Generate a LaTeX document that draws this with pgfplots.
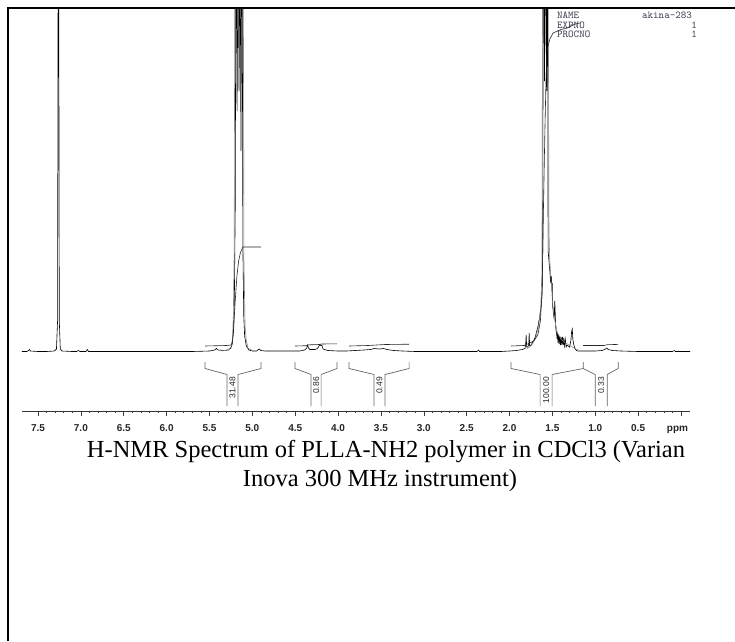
\documentclass[border=0pt]{standalone}
\usepackage{fontspec}
\setmainfont{Liberation Serif}
\newfontfamily\sansf{Liberation Sans}
\usepackage{pgfplots}
\pgfplotsset{compat=1.18}
\definecolor{partext}{RGB}{60,60,80}
\begin{document}
\begin{tikzpicture}[x=1pt,y=1pt]
\useasboundingbox (0,0) rectangle (735,641);
\fill[white] (0,0) rectangle (735,641);
\begin{axis}[
  at={(22pt,230pt)}, anchor=south west,
  width=668pt, height=402pt, scale only axis,
  xmin=-0.105, xmax=7.687, x dir=reverse,
  ymin=0, ymax=402,
  hide y axis,
  axis x line*=bottom,
  x axis line style={-, line width=0.8pt, color=black!80},
  xtick={0,0.5,1,1.5,2,2.5,3,3.5,4,4.5,5,5.5,6,6.5,7,7.5},
  xticklabels={ppm\hspace*{7pt},0.5,1.0,1.5,2.0,2.5,3.0,3.5,4.0,4.5,5.0,5.5,6.0,6.5,7.0,7.5},
  typeset ticklabels with strut,
  minor x tick num=4,
  tick align=outside,
  major tick length=4.5pt, minor tick length=2pt,
  every tick/.style={black!75, line width=0.6pt},
  xticklabel style={font=\sansf\bfseries\fontsize{10}{12}\selectfont, text=black!85, yshift=-4pt},
]
% spectrum
\addplot[black, line width=0.6pt] coordinates {
(7.687,59.5) (7.63,59.5) (7.61,60.5) (7.60,61.5) (7.59,60) (7.50,59.5) (7.40,59.5) (7.31,60) (7.285,62) (7.272,90) (7.266,420) (7.258,420) (7.252,90) (7.24,62) (7.22,60) (7.10,59.5) (7.05,59.5) (7.03,60.5) (7.01,59.5) (6.94,59.5) (6.925,61.5) (6.91,59.5) (6.50,59.5) (6.00,59.5) (5.70,59.5) (5.50,60) (5.44,61) (5.42,62.5) (5.40,61) (5.33,60.5) (5.28,61) (5.25,63) (5.235,67) (5.22,80) (5.21,110) (5.20,200) (5.193,420) (5.185,420) (5.178,300) (5.170,420) (5.162,420) (5.155,320) (5.148,420) (5.140,420) (5.133,260) (5.126,420) (5.118,420) (5.11,160) (5.10,95) (5.09,75) (5.07,65) (5.04,61) (5.00,60) (4.95,60) (4.93,61.5) (4.92,62) (4.90,60.5) (4.85,60) (4.60,60) (4.45,60) (4.39,61) (4.365,63) (4.355,66) (4.345,63) (4.33,61.5) (4.27,61.5) (4.24,62.5) (4.215,66) (4.20,65.5) (4.19,66) (4.175,62) (4.12,60.5) (4.00,60) (3.90,60) (3.80,60.5) (3.70,61) (3.62,61.5) (3.58,62.5) (3.52,62) (3.47,62.5) (3.43,61.5) (3.35,60.5) (3.25,60) (3.10,59.5) (2.80,59.5) (2.50,59.5) (2.38,59.5) (2.36,61) (2.35,59.5) (2.10,59.5) (2.00,60) (1.92,60.5) (1.85,61.5) (1.82,62.5) (1.812,66) (1.806,76) (1.80,64) (1.79,64) (1.776,66) (1.771,78) (1.765,65) (1.75,66) (1.72,70) (1.70,74) (1.67,84) (1.645,96) (1.63,106) (1.62,118) (1.613,160) (1.608,420) (1.598,420) (1.592,330) (1.585,420) (1.575,420) (1.568,320) (1.562,420) (1.556,420) (1.55,160) (1.54,150) (1.53,140) (1.52,128) (1.512,135) (1.505,120) (1.502,128) (1.498,105) (1.49,100) (1.48,92) (1.472,110) (1.466,95) (1.46,82) (1.452,78) (1.445,72) (1.44,78) (1.435,68) (1.428,76) (1.42,67) (1.413,75) (1.405,66) (1.398,74) (1.39,66) (1.383,74) (1.375,66) (1.368,73) (1.36,65) (1.35,72) (1.34,64) (1.33,66) (1.30,64) (1.285,70) (1.275,80) (1.268,82) (1.262,72) (1.25,66) (1.235,62) (1.22,60.5) (1.20,60) (1.10,60) (1.00,60) (0.92,60.5) (0.88,62) (0.865,63) (0.85,61.5) (0.80,60.5) (0.70,60) (0.50,59.5) (0.30,59.5) (0.10,59.5) (0.075,60.5) (0.065,59.5) (-0.105,59.5)
};
% ghost traces
\addplot[black!45, line width=0.6pt] coordinates {
(5.35,60) (5.28,61.5) (5.25,64) (5.232,72) (5.222,95) (5.212,160) (5.205,420) (5.105,420) (5.098,150) (5.085,85) (5.07,70) (5.05,63) (5.00,60.5)
};
\addplot[black!45, line width=0.6pt] coordinates {
(1.80,62) (1.74,66) (1.70,72) (1.66,85) (1.635,105) (1.622,140) (1.615,420) (1.548,420) (1.54,180) (1.53,150) (1.515,130) (1.50,110) (1.48,95) (1.46,85) (1.44,78) (1.40,72) (1.35,68) (1.30,66) (1.25,63) (1.20,61)
};
% integral traces
\addplot[black!85, line width=0.6pt] coordinates {
(5.552,65) (5.30,65.5) (5.25,66) (5.235,68) (5.22,80) (5.20,110) (5.18,135) (5.16,150) (5.14,158) (5.12,162) (5.11,164) (4.898,164)
};
\addplot[black!85, line width=0.6pt] coordinates {
(4.502,65) (4.37,65.3) (4.35,66) (4.33,66.2) (4.22,66.5) (4.19,67) (4.012,67.2)
};
\addplot[black!85, line width=0.6pt] coordinates {
(3.872,65) (3.65,65.5) (3.55,66) (3.45,66.5) (3.171,66.8)
};
\addplot[black!85, line width=0.6pt] coordinates {
(1.982,65) (1.83,65.5) (1.805,66.5) (1.775,67.5) (1.72,70) (1.67,76) (1.64,90) (1.62,120) (1.605,200) (1.59,270) (1.575,330) (1.562,361) (1.53,372) (1.492,378) (1.40,381.5) (1.328,383) (1.235,387) (1.18,388)
};
\addplot[black!85, line width=0.6pt] coordinates {
(1.141,65.5) (0.90,65.5) (0.86,66.3) (0.733,66.6)
};
% integral brackets
\addplot[black!60, line width=0.7pt] coordinates {(5.552,49) (5.552,42.5) (5.295,36.5) (5.295,5)};
\addplot[black!60, line width=0.7pt] coordinates {(5.167,5) (5.167,36.5) (4.898,42.5) (4.898,49)};
\addplot[black!60, line width=0.7pt] coordinates {(4.502,49) (4.502,42.5) (4.315,36.5) (4.315,5)};
\addplot[black!60, line width=0.7pt] coordinates {(4.198,5) (4.198,36.5) (4.012,42.5) (4.012,49)};
\addplot[black!60, line width=0.7pt] coordinates {(3.872,49) (3.872,42.5) (3.580,36.5) (3.580,5)};
\addplot[black!60, line width=0.7pt] coordinates {(3.452,5) (3.452,36.5) (3.171,42.5) (3.171,49)};
\addplot[black!60, line width=0.7pt] coordinates {(1.982,49) (1.982,42.5) (1.643,36.5) (1.643,5)};
\addplot[black!60, line width=0.7pt] coordinates {(1.503,5) (1.503,36.5) (1.141,42.5) (1.141,49)};
\addplot[black!60, line width=0.7pt] coordinates {(1.141,42.5) (1.001,36.5) (1.001,5)};
\addplot[black!60, line width=0.7pt] coordinates {(0.861,5) (0.861,36.5) (0.733,42.5) (0.733,49)};
% integral values
\node[rotate=90, anchor=east, inner sep=0pt, font=\sansf\fontsize{8.5}{9}\selectfont, text=black!85] at (axis cs:5.231,34) {31.48};
\node[rotate=90, anchor=east, inner sep=0pt, font=\sansf\fontsize{8.5}{9}\selectfont, text=black!85] at (axis cs:4.2565,34) {0.86};
\node[rotate=90, anchor=east, inner sep=0pt, font=\sansf\fontsize{8.5}{9}\selectfont, text=black!85] at (axis cs:3.516,34) {0.49};
\node[rotate=90, anchor=east, inner sep=0pt, font=\sansf\fontsize{8.5}{9}\selectfont, text=black!85] at (axis cs:1.573,34) {100.00};
\node[rotate=90, anchor=east, inner sep=0pt, font=\sansf\fontsize{8.5}{9}\selectfont, text=black!85] at (axis cs:0.931,34) {0.33};
\end{axis}
% parameter block
\node[anchor=west, inner sep=0pt, font=\ttfamily\fontsize{10.5}{10}\selectfont, text=partext] at (557,626) {NAME};
\node[anchor=west, inner sep=0pt, font=\ttfamily\fontsize{10.5}{10}\selectfont, text=partext] at (642,626) {akina-283};
\node[anchor=west, inner sep=0pt, font=\ttfamily\fontsize{10.5}{10}\selectfont, text=partext] at (557,616) {EXPNO};
\node[anchor=east, inner sep=0pt, font=\ttfamily\fontsize{10.5}{10}\selectfont, text=partext] at (697,616) {1};
\node[anchor=west, inner sep=0pt, font=\ttfamily\fontsize{10.5}{10}\selectfont, text=partext] at (557,607) {PROCNO};
\node[anchor=east, inner sep=0pt, font=\ttfamily\fontsize{10.5}{10}\selectfont, text=partext] at (697,607) {1};
% frame
\draw[line width=2pt] (8,0) -- (8,633) -- (735,633);
% caption
\node[inner sep=0pt, font=\fontsize{24.5}{28}\selectfont] at (386,189) {H-NMR Spectrum of PLLA-NH2 polymer in CDCl3 (Varian};
\node[inner sep=0pt, font=\fontsize{24.5}{28}\selectfont] at (380,160) {Inova 300 MHz instrument)};
\end{tikzpicture}
\end{document}
